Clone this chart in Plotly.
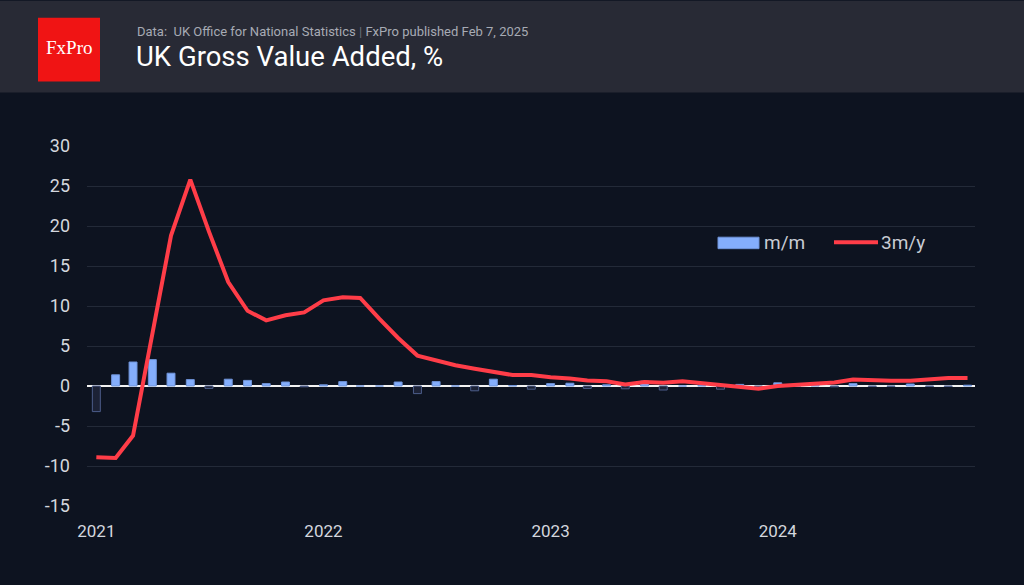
import pandas as pd
import plotly.graph_objects as go

# ---- data ----
months = pd.date_range("2021-01-01", "2024-11-01", freq="MS")
mm = [-3.2, 1.4, 3.0, 3.3, 1.6, 0.8, -0.3, 0.85, 0.7, 0.3, 0.5, -0.1,
      0.15, 0.55, 0.0, 0.0, 0.5, -0.95, 0.55, 0.0, -0.6, 0.85, 0.05, -0.4,
      0.3, 0.35, -0.3, 0.15, -0.35, 0.6, -0.5, 0.0, 0.05, -0.4, 0.2, -0.1,
      0.4, 0.05, 0.2, -0.1, 0.3, -0.05, -0.05, 0.25, -0.05, -0.05, 0.1]
m3y = [-8.9, -9.0, -6.2, 6.3, 18.8, 25.8, 19.3, 13.0, 9.4, 8.2, 8.85, 9.2,
       10.7, 11.1, 11.0, 8.4, 6.0, 3.8, 3.2, 2.6, 2.15, 1.75, 1.37, 1.37,
       1.08, 0.95, 0.7, 0.6, 0.2, 0.5, 0.4, 0.6, 0.38, 0.12, -0.08, -0.33,
       0.0, 0.17, 0.33, 0.45, 0.8, 0.7, 0.67, 0.65, 0.83, 1.0, 1.0]
y_ticks = [-15, -10, -5, 0, 5, 10, 15, 20, 25, 30]
y_tick_text = [str(v) for v in y_ticks]

W, H = 1024, 585
L, R, T, B = 87, 975, 145.6, 506.4
BG = "#0d1320"
HEAD = "#282a35"
BLUE = "#84aefc"
RED = "#ff3d48"


def px(x):
    return (x - L) / (R - L)


def py(y):
    return (B - y) / (B - T)


fill = [BLUE if v >= 0 else "#1c2236" for v in mm]
edge = ["#6f93d8" if v >= 0 else "#4c5d8a" for v in mm]

fig = go.Figure()
fig.add_trace(go.Bar(x=months, y=mm, width=12.8 * 86400000,
                     marker=dict(color=fill, line=dict(color=edge, width=1)),
                     showlegend=False, name="m/m"))
fig.add_trace(go.Scatter(x=months, y=m3y, mode="lines",
                         line=dict(color=RED, width=4),
                         showlegend=False, name="3m/y"))

shapes = [
    dict(type="rect", xref="paper", yref="paper", x0=px(0), x1=px(W),
         y0=py(92), y1=py(0), fillcolor=HEAD, line=dict(width=0), layer="below"),
    dict(type="rect", xref="paper", yref="paper", x0=px(38), x1=px(100),
         y0=py(81), y1=py(17), fillcolor="#f01414", line=dict(width=0), layer="below"),
    # legend swatches
    dict(type="rect", xref="paper", yref="paper", x0=px(718), x1=px(759),
         y0=py(248.5), y1=py(237), fillcolor=BLUE, line=dict(color="#6f93d8", width=1)),
    dict(type="line", xref="paper", yref="paper", x0=px(834), x1=px(878),
         y0=py(242), y1=py(242), line=dict(color=RED, width=4)),
]

annotations = [
    dict(text="FxPro", xref="paper", yref="paper", x=px(69), y=py(47),
         showarrow=False, xanchor="center", yanchor="middle",
         font=dict(family="Liberation Serif", size=19, color="white")),
    dict(text="Data:  UK Office for National Statistics <span style='color:#6a6e78'>|</span> FxPro published Feb 7, 2025",
         xref="paper", yref="paper", x=px(135), y=py(31), showarrow=False,
         xanchor="left", yanchor="middle",
         font=dict(family="Roboto", size=13, color="#a7abb4")),
    dict(text="UK Gross Value Added, %", xref="paper", yref="paper",
         x=px(134), y=py(56), showarrow=False, xanchor="left", yanchor="middle",
         font=dict(family="Roboto", size=27.5, color="white")),
    dict(text="m/m", xref="paper", yref="paper", x=px(762), y=py(242),
         showarrow=False, xanchor="left", yanchor="middle",
         font=dict(family="Roboto", size=19, color="#c8ccd4")),
    dict(text="3m/y", xref="paper", yref="paper", x=px(879), y=py(242),
         showarrow=False, xanchor="left", yanchor="middle",
         font=dict(family="Roboto", size=19, color="#c8ccd4")),
]

fig.update_layout(
    width=W, height=H,
    margin=dict(l=L, r=W - R, t=T, b=H - B, pad=0),
    paper_bgcolor=BG, plot_bgcolor=BG,
    shapes=shapes, annotations=annotations,
    font=dict(family="Roboto", color="#d4d7de"),
    xaxis=dict(range=["2020-12-17", "2024-11-13"], tickformat="%Y",
               dtick="M12", tick0="2021-01-01", showgrid=False,
               ticks="", ticklabelstandoff=13, zeroline=False, showline=False,
               tickfont=dict(size=17, color="#d4d7de")),
    yaxis=dict(range=[-15, 30], tickvals=y_ticks, ticktext=y_tick_text,
               showgrid=True, gridcolor="#232a38", gridwidth=1, zeroline=True,
               zerolinecolor="#f2f2f2", zerolinewidth=1.5, ticks="",
               ticklabelstandoff=16, showline=False,
               tickfont=dict(size=18, color="#d4d7de")),
)

fig.write_html("out.html", config={"displayModeBar": False},
               post_script="document.body.style.margin='0';")
